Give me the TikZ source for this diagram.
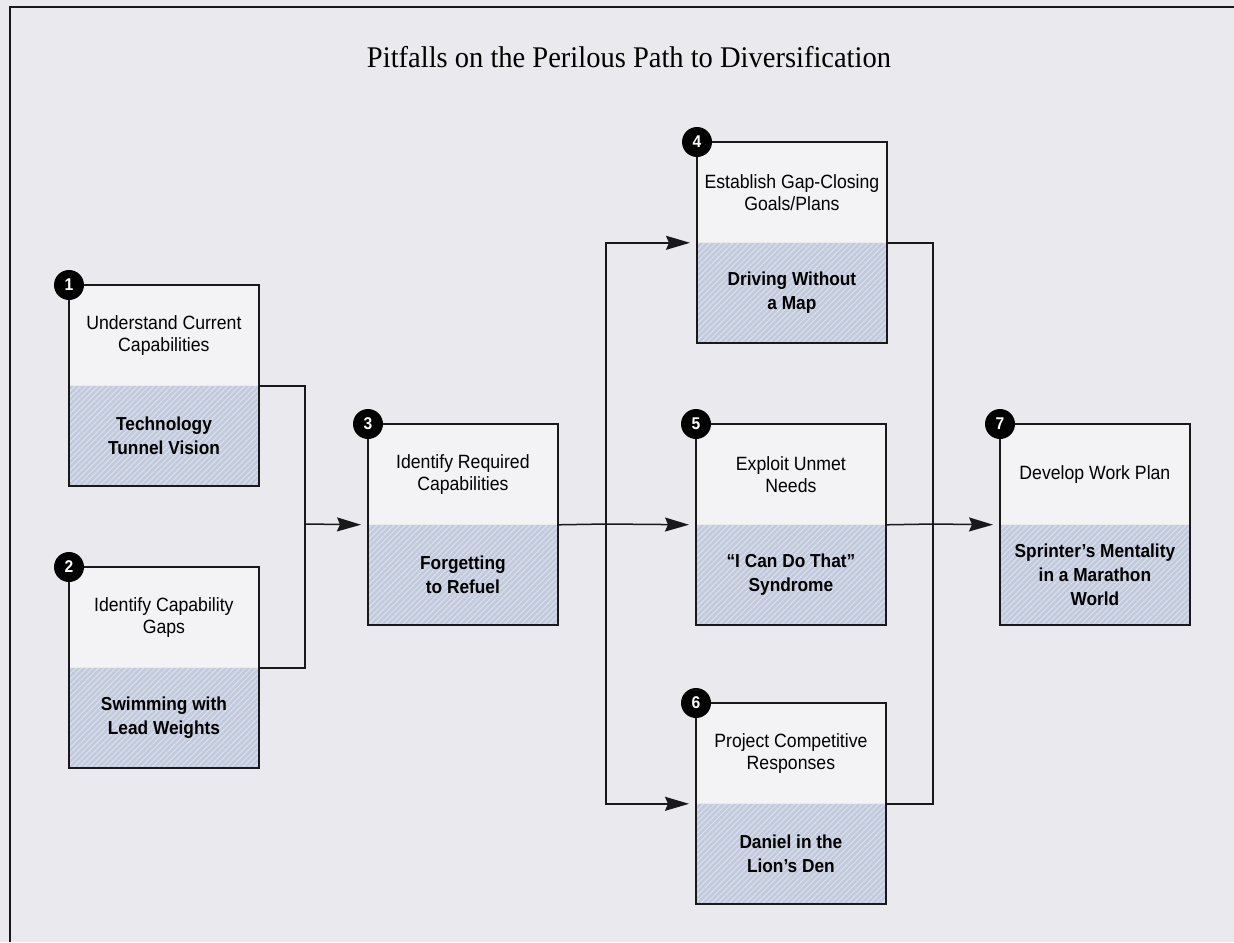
\documentclass[tikz,border=0pt]{standalone}
\usepackage{fontspec}
\setmainfont{Liberation Serif}
\newfontfamily\titlefont[FakeStretch=0.95]{Liberation Serif}
\newfontfamily\boxfont[FakeStretch=0.92]{Liberation Sans}
\usetikzlibrary{arrows.meta,patterns.meta}

\definecolor{paper}{RGB}{234,233,237}
\definecolor{panel}{RGB}{243,242,244}
\definecolor{shadeblue}{RGB}{194,202,222}
\definecolor{hatch}{RGB}{222,225,235}
\definecolor{ink}{RGB}{25,25,28}

\begin{document}
\begin{tikzpicture}[x=0.5pt,y=-0.5pt,
  toppart/.style={anchor=north west, minimum width=94.5pt, minimum height=50pt,
    inner sep=0pt, fill=panel, align=center,
    font=\boxfont\fontsize{9.6}{11}\selectfont, text=black},
  botpart/.style={anchor=north west, minimum width=94.5pt, minimum height=49.5pt,
    inner sep=0pt, preaction={fill=shadeblue},
    pattern={Lines[angle=45,distance=2pt,line width=0.5pt]}, pattern color=hatch,
    align=center, font=\boxfont\bfseries\fontsize{9.4}{12}\selectfont, text=black},
  outline/.style={draw=ink, line width=1pt},
  badge/.style={circle, fill=black, minimum size=15pt, inner sep=0pt,
    text=white, font=\boxfont\bfseries\fontsize{8.5}{8.5}\selectfont},
  link/.style={draw=ink, line width=0.75pt},
  flow/.style={link, -{Stealth[length=12pt,width=7pt,inset=1.5pt]}, shorten >=3.5pt},
]
% page
\fill[paper] (0,0) rectangle (1234,942);
\useasboundingbox (0,0) rectangle (1234,942);
\draw[ink, line width=1pt] (10,942) -- (10,7) -- (1234,7);

% title
\node[font=\titlefont\fontsize{15}{17}\selectfont, text=black] (title) at (629,57)
  {Pitfalls on the Perilous Path to Diversification};

% step boxes: upper part names the step, hatched lower part names the pitfall
\node[toppart] (b1t) at (69,285) {Understand Current\\Capabilities};
\node[botpart] (b1b) at (b1t.south west) {Technology\\Tunnel Vision};

\node[toppart] (b2t) at (69,567) {Identify Capability\\Gaps};
\node[botpart] (b2b) at (b2t.south west) {Swimming with\\Lead Weights};

\node[toppart] (b3t) at (368,424) {Identify Required\\Capabilities};
\node[botpart] (b3b) at (b3t.south west) {Forgetting\\to Refuel};

\node[toppart] (b4t) at (697,142) {Establish Gap-Closing\\Goals/Plans};
\node[botpart] (b4b) at (b4t.south west) {Driving Without\\a Map};

\node[toppart] (b5t) at (696,424) {Exploit Unmet\\Needs};
\node[botpart] (b5b) at (b5t.south west) {“I Can Do That”\\Syndrome};

\node[toppart] (b6t) at (696,703) {Project Competitive\\Responses};
\node[botpart] (b6b) at (b6t.south west) {Daniel in the\\Lion’s Den};

\node[toppart] (b7t) at (1000,424) {Develop Work Plan};
\node[botpart] (b7b) at (b7t.south west) {Sprinter’s Mentality\\in a Marathon\\World};

\foreach \b in {b1,b2,b3,b4,b5,b6,b7}
  \draw[outline] (\b t.north west) rectangle (\b b.south east);

% junction points of the connectors
\coordinate (m12) at (305,524);
\coordinate (m3) at (606,524);
\coordinate (m7) at (933,524);

% connectors
\draw[link] (b1b.north east) -| (m12);
\draw[link] (b2b.north east) -| (m12);
\draw[flow] (m12) -- (b3b.north west);

\draw[link] (b3b.north east) -- (m3);
\draw[flow] (m3) |- (b4b.north west);
\draw[flow] (m3) -- (b5b.north west);
\draw[flow] (m3) |- (b6b.north west);

\draw[link] (b4b.north east) -| (m7);
\draw[link] (b6b.north east) -| (m7);
\draw[link] (b5b.north east) -- (m7);
\draw[flow] (m7) -- (b7b.north west);

% numbered badges
\node[badge] (n1) at (b1t.north west) {1};
\node[badge] (n2) at (b2t.north west) {2};
\node[badge] (n3) at (b3t.north west) {3};
\node[badge] (n4) at (b4t.north west) {4};
\node[badge] (n5) at (b5t.north west) {5};
\node[badge] (n6) at (b6t.north west) {6};
\node[badge] (n7) at (b7t.north west) {7};
\end{tikzpicture}
\end{document}
